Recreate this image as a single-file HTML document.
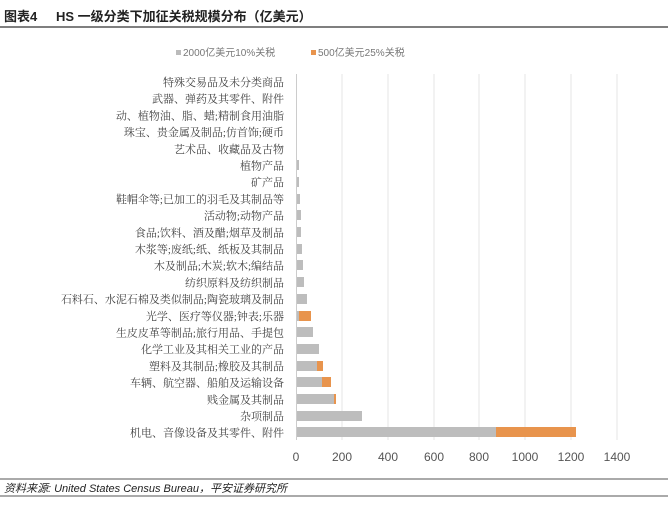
<!DOCTYPE html>
<html><head><meta charset="utf-8"><style>
body{margin:0;background:#fff;width:668px;height:500px;overflow:hidden}
svg text{font-family:"Liberation Serif","Noto Serif CJK SC",serif}
svg text.s{font-family:"Liberation Sans","Noto Sans CJK SC",sans-serif}
</style></head><body>
<svg width="668" height="500" viewBox="0 0 668 500" xmlns="http://www.w3.org/2000/svg">
<text class="s" x="4" y="21" font-size="13" font-weight="bold" fill="#222">图表4</text>
<text class="s" x="56" y="21" font-size="13" font-weight="bold" fill="#222">HS 一级分类下加征关税规模分布（亿美元）</text>
<line x1="0" y1="27" x2="668" y2="27" stroke="#555" stroke-width="1.5"/>
<rect x="176" y="50" width="5" height="5" fill="#bbb"/>
<text class="s" x="183" y="56" font-size="10" fill="#777">2000亿美元10%关税</text>
<rect x="311" y="50" width="5" height="5" fill="#e8944d"/>
<text class="s" x="318" y="56" font-size="10" fill="#777">500亿美元25%关税</text>
<g stroke="#e4e4e4" stroke-width="1">
<line x1="342" y1="74" x2="342" y2="440"/><line x1="388" y1="74" x2="388" y2="440"/><line x1="434" y1="74" x2="434" y2="440"/><line x1="479" y1="74" x2="479" y2="440"/><line x1="525" y1="74" x2="525" y2="440"/><line x1="571" y1="74" x2="571" y2="440"/><line x1="617" y1="74" x2="617" y2="440"/>
</g>
<line x1="296.5" y1="74" x2="296.5" y2="440" stroke="#ccc"/>
<g font-size="11" fill="#444" text-anchor="end">
<text x="284" y="86">特殊交易品及未分类商品</text>
<text x="284" y="102.7">武器、弹药及其零件、附件</text>
<text x="284" y="119.4">动、植物油、脂、蜡;精制食用油脂</text>
<text x="284" y="136.1">珠宝、贵金属及制品;仿首饰;硬币</text>
<text x="284" y="152.8">艺术品、收藏品及古物</text>
<text x="284" y="169.5">植物产品</text>
<text x="284" y="186.2">矿产品</text>
<text x="284" y="202.9">鞋帽伞等;已加工的羽毛及其制品等</text>
<text x="284" y="219.6">活动物;动物产品</text>
<text x="284" y="236.3">食品;饮料、酒及醋;烟草及制品</text>
<text x="284" y="253">木浆等;废纸;纸、纸板及其制品</text>
<text x="284" y="269.7">木及制品;木炭;软木;编结品</text>
<text x="284" y="286.4">纺织原料及纺织制品</text>
<text x="284" y="303.1">石料石、水泥石棉及类似制品;陶瓷玻璃及制品</text>
<text x="284" y="319.8">光学、医疗等仪器;钟表;乐器</text>
<text x="284" y="336.5">生皮皮革等制品;旅行用品、手提包</text>
<text x="284" y="353.2">化学工业及其相关工业的产品</text>
<text x="284" y="369.9">塑料及其制品;橡胶及其制品</text>
<text x="284" y="386.6">车辆、航空器、船舶及运输设备</text>
<text x="284" y="403.3">贱金属及其制品</text>
<text x="284" y="420">杂项制品</text>
<text x="284" y="436.7">机电、音像设备及其零件、附件</text>
</g>
<g fill="#bdbdbd">
<rect x="297" y="160" width="2" height="10"/>
<rect x="297" y="177" width="2" height="10"/>
<rect x="297" y="194" width="3" height="10"/>
<rect x="297" y="210" width="4" height="10"/>
<rect x="297" y="227" width="4" height="10"/>
<rect x="297" y="244" width="5" height="10"/>
<rect x="297" y="260" width="6" height="10"/>
<rect x="297" y="277" width="7" height="10"/>
<rect x="297" y="294" width="10" height="10"/>
<rect x="297" y="311" width="2" height="10"/>
<rect x="297" y="327" width="16" height="10"/>
<rect x="297" y="344" width="22" height="10"/>
<rect x="297" y="361" width="20" height="10"/>
<rect x="297" y="377" width="25" height="10"/>
<rect x="297" y="394" width="37" height="10"/>
<rect x="297" y="411" width="65" height="10"/>
<rect x="297" y="427" width="199" height="10"/>
</g>
<g fill="#e8944d">
<rect x="299" y="311" width="12" height="10"/>
<rect x="317" y="361" width="6" height="10"/>
<rect x="322" y="377" width="9" height="10"/>
<rect x="334" y="394" width="2" height="10"/>
<rect x="496" y="427" width="80" height="10"/>
</g>
<g font-size="12" fill="#555" text-anchor="middle">
<text class="s" x="296" y="461">0</text><text class="s" x="342" y="461">200</text><text class="s" x="388" y="461">400</text><text class="s" x="434" y="461">600</text><text class="s" x="479" y="461">800</text><text class="s" x="525" y="461">1000</text><text class="s" x="571" y="461">1200</text><text class="s" x="617" y="461">1400</text>
</g>
<line x1="0" y1="479" x2="668" y2="479" stroke="#555"/>
<text class="s" x="4" y="492" font-size="11" font-style="italic" fill="#222">资料来源: United States Census Bureau，平安证券研究所</text>
<line x1="0" y1="496" x2="668" y2="496" stroke="#555"/>
</svg>
</body></html>
